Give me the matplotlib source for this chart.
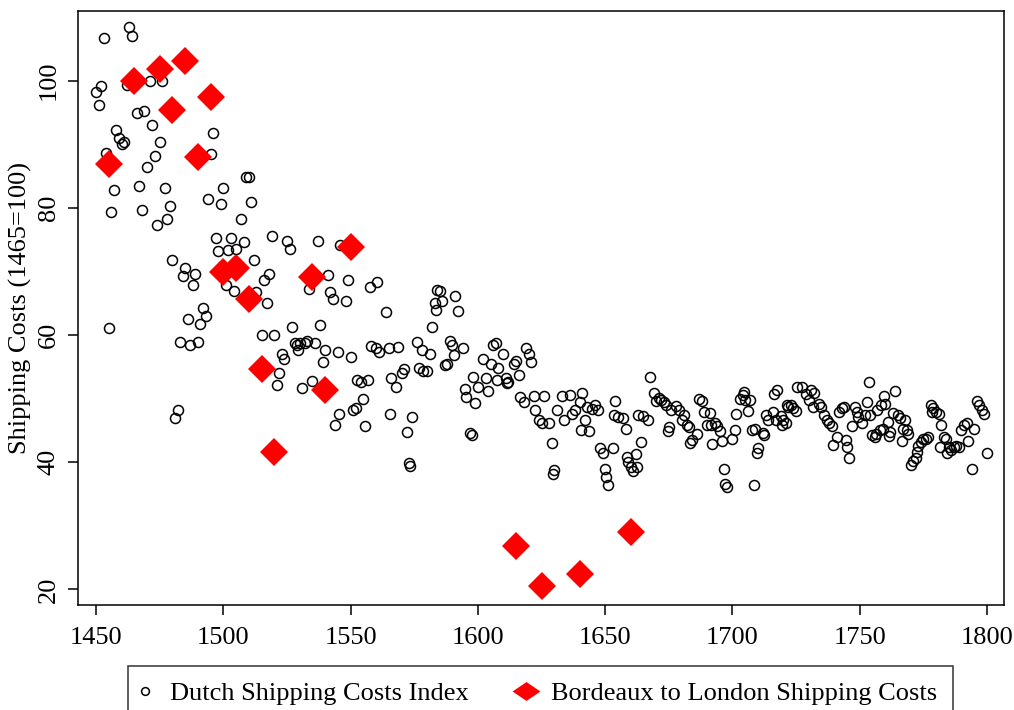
import numpy as np
import matplotlib
matplotlib.use('Agg')
import matplotlib.pyplot as plt
from matplotlib.lines import Line2D
from matplotlib.path import Path

plt.rcParams['font.family'] = ['Liberation Serif', 'DejaVu Serif']

# Dutch shipping costs index (1465=100)
dutch_year = [
    1450, 1451, 1452, 1453, 1454, 1455, 1456, 1457, 1458, 1459, 1460, 1461,
    1462, 1463, 1464, 1466, 1467, 1468, 1469, 1470, 1471, 1472, 1473, 1474,
    1475, 1476, 1477, 1478, 1479, 1480, 1481, 1482, 1483, 1484, 1485, 1486,
    1487, 1488, 1489, 1490, 1491, 1492, 1493, 1494, 1495, 1496, 1497, 1498,
    1499, 1500, 1501, 1502, 1503, 1504, 1505, 1507, 1508, 1509, 1510, 1511,
    1512, 1513, 1515, 1516, 1517, 1518, 1519, 1520, 1521, 1522, 1523, 1524,
    1525, 1526, 1527, 1528, 1529, 1529.5, 1530, 1531, 1532, 1533, 1533.5, 1535,
    1536, 1537, 1538, 1539, 1540, 1541, 1542, 1543, 1544, 1545, 1545.5, 1546,
    1548, 1549, 1550, 1551, 1552, 1552.5, 1554, 1555, 1555.5, 1557, 1557.5, 1558,
    1560, 1560.5, 1561, 1564, 1565, 1565.5, 1566, 1568, 1568.5, 1570, 1571, 1572,
    1573, 1573.5, 1574, 1576, 1577, 1578, 1578.5, 1580, 1581, 1582, 1583, 1583.5,
    1584, 1585, 1586, 1587, 1588, 1589, 1590, 1590.5, 1591, 1592, 1594, 1595,
    1595.5, 1597, 1597.5, 1598, 1599, 1600, 1602, 1603, 1604, 1605, 1606, 1607,
    1607.5, 1608, 1610, 1611, 1611.5, 1612, 1614, 1615, 1616, 1616.5, 1618, 1619,
    1620, 1621, 1622, 1622.5, 1624, 1625, 1626, 1628, 1629, 1629.5, 1630, 1631,
    1633, 1634, 1636, 1637, 1638, 1640, 1640.5, 1641, 1642, 1643, 1643.5, 1645,
    1646, 1647, 1648, 1649, 1650, 1650.5, 1651, 1653, 1653.5, 1654, 1655, 1657,
    1658, 1658.5, 1659, 1660, 1661, 1662, 1662.5, 1663, 1664, 1665, 1667, 1667.5,
    1669, 1670, 1671, 1672, 1673, 1674, 1674.5, 1675, 1676, 1678, 1679, 1680,
    1681, 1682, 1683, 1683.5, 1684, 1686, 1687, 1688, 1689, 1690, 1691, 1691.5,
    1692, 1693, 1694, 1695, 1696, 1696.5, 1697, 1698, 1700, 1701, 1701.5, 1703,
    1704, 1704.5, 1705, 1706, 1707, 1707.5, 1708.5, 1709, 1709.5, 1710, 1712, 1712.5,
    1713, 1714, 1716, 1716.5, 1717, 1717.5, 1719, 1719.5, 1720, 1721, 1721.5, 1722,
    1723, 1724, 1725, 1725.5, 1727.5, 1729, 1730, 1731, 1731.5, 1732, 1734, 1735,
    1736, 1737, 1738, 1739, 1739.5, 1741, 1742, 1743, 1744, 1744.5, 1745, 1746,
    1747, 1748, 1749, 1749.5, 1751, 1752, 1753, 1753.5, 1754, 1755, 1756, 1756.5,
    1757, 1758, 1758.5, 1759, 1759.5, 1760, 1761, 1761.5, 1762, 1763, 1764, 1765,
    1766, 1766.5, 1767, 1768, 1768.5, 1769, 1770, 1771, 1772, 1772.5, 1773, 1774,
    1775, 1776, 1777, 1778, 1778.5, 1779, 1780, 1781, 1781.5, 1782, 1783, 1784,
    1784.5, 1785, 1786, 1787, 1788, 1789, 1790, 1791, 1792, 1792.5, 1794, 1795,
    1796, 1797, 1798, 1799, 1800,
]
dutch_cost = [
    98.2, 96.2, 99.1, 106.7, 88.7, 61.1, 79.4, 82.8, 92.2, 91.0, 90.0, 90.4,
    99.4, 108.5, 107.1, 95.0, 83.4, 79.6, 95.2, 86.5, 100.0, 93.1, 88.1, 77.3,
    90.4, 100.0, 83.2, 78.2, 80.3, 71.8, 46.9, 48.3, 58.9, 69.3, 70.5, 62.5,
    58.5, 67.8, 69.6, 58.9, 61.7, 64.3, 63.0, 81.4, 88.5, 91.8, 75.2, 73.3,
    80.6, 83.2, 67.9, 73.4, 75.3, 67.0, 73.5, 78.3, 74.7, 84.9, 84.8, 80.9,
    71.8, 66.8, 60.0, 68.7, 65.0, 69.6, 75.6, 60.0, 52.1, 54.1, 57.0, 56.3,
    74.8, 73.6, 61.3, 58.8, 58.5, 57.6, 58.7, 51.7, 58.8, 59.1, 67.2, 52.8,
    58.7, 74.8, 61.6, 55.8, 57.6, 69.4, 66.7, 65.6, 45.8, 57.4, 47.6, 74.2,
    65.4, 68.7, 56.5, 48.2, 48.6, 53.0, 52.6, 49.9, 45.7, 52.9, 67.5, 58.3,
    58.0, 68.3, 57.4, 63.7, 57.9, 47.6, 53.2, 51.8, 58.2, 54.0, 54.6, 44.8,
    39.9, 39.4, 47.1, 58.9, 54.8, 57.6, 54.3, 54.3, 57.1, 61.2, 65.0, 64.0,
    67.1, 67.0, 65.4, 55.3, 55.4, 59.1, 58.4, 56.9, 66.2, 63.8, 57.9, 51.6,
    50.2, 44.6, 44.3, 53.4, 49.3, 51.9, 56.2, 53.3, 51.2, 55.4, 58.4, 58.7,
    52.9, 54.8, 57.0, 53.3, 52.5, 52.7, 55.4, 56.0, 53.7, 50.2, 49.5, 57.9,
    57.0, 55.7, 50.4, 48.3, 46.7, 46.1, 50.4, 46.2, 43.0, 38.2, 38.8, 48.2,
    50.4, 46.6, 50.6, 47.6, 48.3, 49.5, 45.0, 50.9, 46.7, 48.7, 44.9, 48.4,
    49.0, 48.2, 42.2, 41.4, 39.0, 37.7, 36.4, 42.2, 47.4, 49.7, 47.1, 46.9,
    45.2, 40.8, 40.0, 39.3, 38.6, 41.3, 39.3, 47.4, 43.2, 47.2, 46.7, 53.4,
    50.9, 49.6, 50.1, 49.8, 49.5, 49.0, 44.9, 45.5, 48.2, 48.8, 48.2, 46.6,
    47.4, 45.8, 45.5, 43.1, 43.5, 44.5, 49.9, 49.6, 47.9, 45.8, 47.7, 45.8,
    42.9, 46.2, 45.7, 44.9, 43.4, 38.9, 36.6, 36.1, 43.6, 45.0, 47.6, 50.0,
    50.6, 51.1, 49.8, 48.1, 49.8, 45.0, 36.4, 45.2, 41.4, 42.3, 44.6, 44.3,
    47.4, 46.6, 47.9, 50.8, 46.6, 51.3, 47.2, 45.8, 46.6, 46.1, 49.0, 48.7,
    49.0, 48.5, 48.1, 51.9, 51.8, 50.8, 49.8, 51.3, 48.7, 50.9, 49.2, 48.7,
    47.4, 46.7, 46.1, 45.7, 42.7, 44.0, 47.9, 48.5, 48.7, 43.5, 42.4, 40.6,
    45.7, 48.7, 47.9, 47.1, 46.1, 47.4, 49.5, 52.6, 47.4, 44.3, 44.0, 44.5,
    48.2, 45.0, 49.0, 45.3, 50.4, 49.2, 46.3, 44.1, 44.7, 47.7, 51.2, 47.4,
    47.0, 43.3, 45.3, 46.6, 45.0, 44.5, 39.5, 40.2, 40.7, 41.6, 42.5, 43.2,
    43.6, 43.7, 43.9, 49.0, 47.9, 48.5, 47.9, 47.6, 42.4, 45.8, 44.0, 43.6,
    41.4, 42.4, 41.9, 42.4, 42.5, 42.4, 45.0, 45.8, 46.2, 43.4, 38.9, 45.3,
    49.7, 49.0, 48.2, 47.6, 41.4,
]

# Bordeaux to London shipping costs
bordeaux_year = [1455, 1465, 1475, 1480, 1485, 1490, 1495, 1500, 1505, 1510,
                 1515, 1520, 1535, 1540, 1550, 1615, 1625, 1640, 1660]
bordeaux_cost = [86.9, 100.0, 101.9, 95.4, 103.1, 88.0, 97.5, 69.9, 70.5, 65.7,
                 54.6, 41.6, 69.1, 51.3, 73.9, 26.8, 20.5, 22.4, 29.1]

xticks = [1450, 1500, 1550, 1600, 1650, 1700, 1750, 1800]
yticks = [20, 40, 60, 80, 100]

fig = plt.figure(figsize=(10.14, 7.1), dpi=100)
ax = fig.add_axes([78 / 1014, 105 / 710, 926 / 1014, 594 / 710])

ax.plot(dutch_year, dutch_cost, linestyle='none', marker='o', ms=7.2,
        mfc='none', mec='black', mew=1.1)
ax.plot(bordeaux_year, bordeaux_cost, linestyle='none', marker='D', ms=14,
        color='red', mew=0)

ax.set_xlim(1442.9, 1806.7)
ax.set_ylim(17.56, 110.96)
ax.set_xticks(xticks)
ax.set_yticks(yticks)
ax.tick_params(axis='both', direction='out', length=7, width=1.1, labelsize=19)
ax.tick_params(axis='x', pad=9)
ax.tick_params(axis='y', pad=6)
for lbl in ax.get_yticklabels():
    lbl.set_rotation(90)
    lbl.set_va('center')
for sp in ax.spines.values():
    sp.set_linewidth(1.1)

ax.set_ylabel('Shipping Costs (1465=100)', fontsize=19)
ax.yaxis.set_label_coords(-0.0498, 0.5)

# legend handles: small circle, flattened diamond as in the reference
flat_diamond = Path([(-1, 0), (0, 0.68), (1, 0), (0, -0.68), (-1, 0)],
                    [Path.MOVETO, Path.LINETO, Path.LINETO, Path.LINETO, Path.CLOSEPOLY])
handles = [
    Line2D([], [], linestyle='none', marker='o', ms=5.6, mfc='none',
           mec='black', mew=1.1),
    Line2D([], [], linestyle='none', marker=flat_diamond, ms=20,
           color='red', mew=0),
]
labels = ['Dutch Shipping Costs Index', 'Bordeaux to London Shipping Costs']
leg = fig.legend(handles, labels, loc='upper center',
                 bbox_to_anchor=(0.533, 0.062), ncol=2, fontsize=19,
                 frameon=True, fancybox=False, edgecolor='black',
                 handlelength=0.1, handletextpad=0.87, columnspacing=2.15,
                 borderpad=0.6, borderaxespad=0)
leg.get_frame().set_linewidth(1.1)

fig.savefig('out.png', dpi=100)
